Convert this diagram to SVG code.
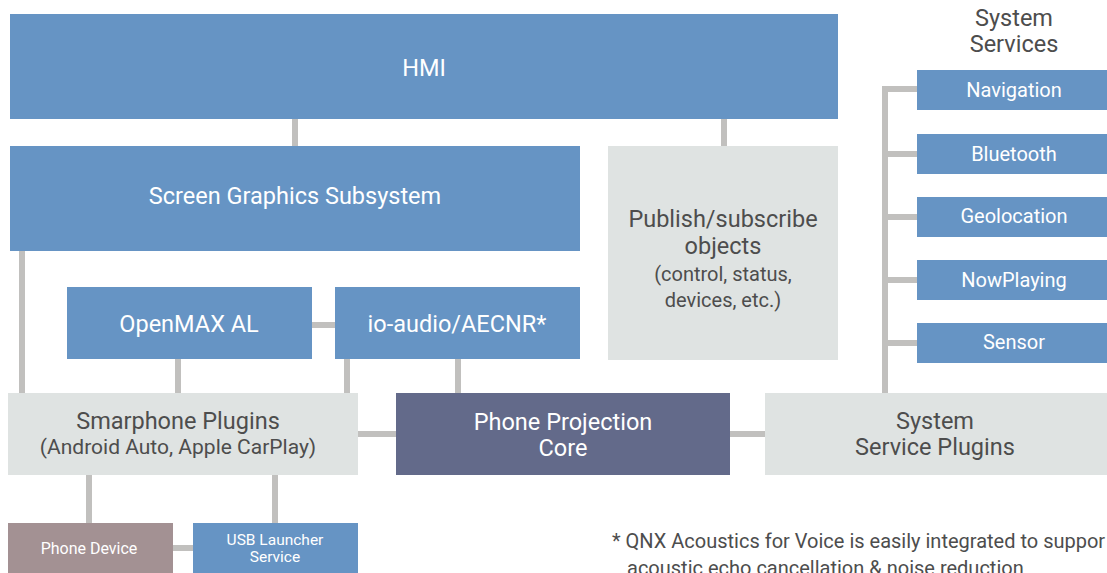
<svg xmlns="http://www.w3.org/2000/svg" width="1107" height="573" viewBox="0 0 1107 573">
  <style>
    .blue { fill: #6694c4; }
    .light { fill: #dfe3e2; }
    .core { fill: #636a8a; }
    .device { fill: #a39193; }
    .wire { stroke: #c1c0be; stroke-width: 6; fill: none; }
    text { font-family: Roboto, "Liberation Sans", sans-serif; text-anchor: middle; }
    .w { fill: #ffffff; }
    .d { fill: #4d4d4d; }
    .f22 { font-size: 23.5px; }
    .f21 { font-size: 21px; }
    .f20 { font-size: 20px; }
    .f16 { font-size: 16px; }
    .f15 { font-size: 15.5px; }
  </style>

  <!-- connectors -->
  <g id="connectors" class="wire">
    <line x1="295" y1="119" x2="295" y2="146"/>
    <line x1="724" y1="119" x2="724" y2="146"/>
    <line x1="22" y1="251" x2="22" y2="393"/>
    <line x1="312" y1="325" x2="335" y2="325"/>
    <line x1="178" y1="359" x2="178" y2="393"/>
    <line x1="347" y1="359" x2="347" y2="393"/>
    <line x1="458" y1="359" x2="458" y2="393"/>
    <line x1="358" y1="434" x2="396" y2="434"/>
    <line x1="730" y1="434" x2="765" y2="434"/>
    <polyline points="917,89 885,89 885,393"/>
    <line x1="885" y1="154" x2="917" y2="154"/>
    <line x1="885" y1="217" x2="917" y2="217"/>
    <line x1="885" y1="280" x2="917" y2="280"/>
    <line x1="885" y1="343" x2="917" y2="343"/>
    <line x1="89" y1="475" x2="89" y2="523"/>
    <line x1="275" y1="475" x2="275" y2="523"/>
    <line x1="173" y1="548" x2="193" y2="548"/>
  </g>

  <g id="hmi">
    <rect class="blue" x="10" y="14" width="828" height="105"/>
    <text class="w f22" x="424" y="76">HMI</text>
  </g>

  <g id="screen-graphics">
    <rect class="blue" x="10" y="146" width="570" height="105"/>
    <text class="w f22" x="295" y="204">Screen Graphics Subsystem</text>
  </g>

  <g id="pubsub">
    <rect class="light" x="608" y="146" width="230" height="214"/>
    <text class="d f22" x="723" y="227">Publish/subscribe</text>
    <text class="d f22" x="723" y="254">objects</text>
    <text class="d f20" x="723" y="281">(control, status,</text>
    <text class="d f20" x="723" y="307">devices, etc.)</text>
  </g>

  <g id="openmax">
    <rect class="blue" x="67" y="287" width="245" height="72"/>
    <text class="w f22" x="189" y="332">OpenMAX AL</text>
  </g>

  <g id="io-audio">
    <rect class="blue" x="335" y="287" width="245" height="72"/>
    <text class="w f22" x="457" y="332">io-audio/AECNR*</text>
  </g>

  <g id="smartphone-plugins">
    <rect class="light" x="8" y="393" width="350" height="82"/>
    <text class="d f22" x="178" y="429">Smarphone Plugins</text>
    <text class="d f21" x="178" y="454">(Android Auto, Apple CarPlay)</text>
  </g>

  <g id="projection-core">
    <rect class="core" x="396" y="393" width="334" height="82"/>
    <text class="w f22" x="563" y="430">Phone Projection</text>
    <text class="w f22" x="563" y="456">Core</text>
  </g>

  <g id="service-plugins">
    <rect class="light" x="765" y="393" width="342" height="82"/>
    <text class="d f22" x="935" y="429">System</text>
    <text class="d f22" x="935" y="455">Service Plugins</text>
  </g>

  <g id="system-services-title">
    <text class="d f22" x="1014" y="26">System</text>
    <text class="d f22" x="1014" y="52">Services</text>
  </g>

  <g id="navigation">
    <rect class="blue" x="917" y="70" width="190" height="40"/>
    <text class="w f20" x="1014" y="97">Navigation</text>
  </g>
  <g id="bluetooth">
    <rect class="blue" x="917" y="134" width="190" height="40"/>
    <text class="w f20" x="1014" y="161">Bluetooth</text>
  </g>
  <g id="geolocation">
    <rect class="blue" x="917" y="197" width="190" height="40"/>
    <text class="w f20" x="1014" y="223">Geolocation</text>
  </g>
  <g id="nowplaying">
    <rect class="blue" x="917" y="260" width="190" height="40"/>
    <text class="w f20" x="1014" y="287">NowPlaying</text>
  </g>
  <g id="sensor">
    <rect class="blue" x="917" y="323" width="190" height="40"/>
    <text class="w f20" x="1014" y="349">Sensor</text>
  </g>

  <g id="phone-device">
    <rect class="device" x="8" y="523" width="165" height="50"/>
    <text class="w f16" x="89" y="554">Phone Device</text>
  </g>

  <g id="usb-launcher">
    <rect class="blue" x="193" y="523" width="165" height="50"/>
    <text class="w f15" x="275" y="545">USB Launcher</text>
    <text class="w f15" x="275" y="562">Service</text>
  </g>

  <g id="footnote">
    <text class="d f20" x="612" y="548" style="text-anchor:start">* QNX Acoustics for Voice is easily integrated to suppor</text>
    <text class="d f20" x="627" y="575" style="text-anchor:start">acoustic echo cancellation &amp; noise reduction</text>
  </g>
</svg>
